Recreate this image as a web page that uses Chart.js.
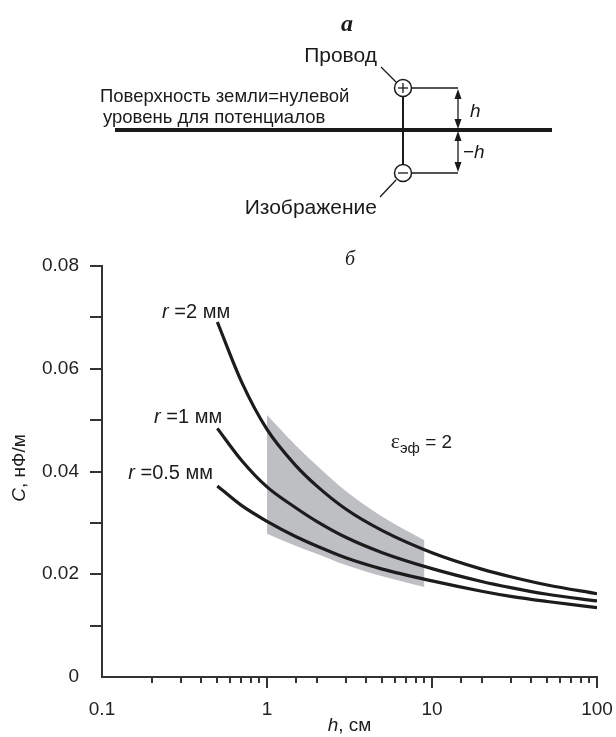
<!DOCTYPE html>
<html>
<head>
<meta charset="utf-8">
<script src="https://cdn.jsdelivr.net/npm/chart.js@4/dist/chart.umd.min.js"></script>
<style>
  body { margin: 0; background: #fff; }
  #wrap { position: relative; width: 616px; height: 737px; }
  #chart { position: absolute; left: 0; top: 240px; }
  #scheme { position: absolute; left: 0; top: 0; pointer-events: none; }
  svg text { font-family: "Liberation Sans", Arial, sans-serif; fill: #1a1a1a; }
</style>
</head>
<body>
<div id="wrap">
  <canvas id="chart" width="616" height="497"></canvas>
  <svg id="scheme" width="616" height="737">
    <text x="347" y="31" text-anchor="middle" style="font-family:'Liberation Serif',serif;font-style:italic;font-weight:bold;font-size:24px">а</text>
    <text x="377" y="62" text-anchor="end" font-size="21">Провод</text>
    <line x1="381" y1="67" x2="396" y2="82" stroke="#1a1a1a" stroke-width="1.3"/>
    <text x="100" y="102" font-size="18.5">Поверхность земли=нулевой</text>
    <text x="103" y="123" font-size="18.5">уровень для потенциалов</text>
    <line x1="115" y1="130" x2="552" y2="130" stroke="#1a1a1a" stroke-width="3.8"/>
    <line x1="403" y1="97" x2="403" y2="164" stroke="#1a1a1a" stroke-width="2"/>
    <line x1="412" y1="88" x2="458" y2="88" stroke="#1a1a1a" stroke-width="1.3"/>
    <line x1="412" y1="173" x2="458" y2="173" stroke="#1a1a1a" stroke-width="1.3"/>
    <circle cx="403" cy="88" r="8.5" fill="#fff" stroke="#1a1a1a" stroke-width="1.5"/>
    <line x1="398" y1="88" x2="408" y2="88" stroke="#1a1a1a" stroke-width="1.3"/>
    <line x1="403" y1="83" x2="403" y2="93" stroke="#1a1a1a" stroke-width="1.3"/>
    <circle cx="403" cy="173" r="8.5" fill="#fff" stroke="#1a1a1a" stroke-width="1.5"/>
    <line x1="398" y1="173" x2="408" y2="173" stroke="#1a1a1a" stroke-width="1.3"/>
    <line x1="458" y1="92" x2="458" y2="126" stroke="#1a1a1a" stroke-width="1.3"/>
    <line x1="458" y1="134" x2="458" y2="169" stroke="#1a1a1a" stroke-width="1.3"/>
    <polygon points="458,89 454.5,99 461.5,99" fill="#1a1a1a"/>
    <polygon points="458,129 454.5,119 461.5,119" fill="#1a1a1a"/>
    <polygon points="458,131 454.5,141 461.5,141" fill="#1a1a1a"/>
    <polygon points="458,172 454.5,162 461.5,162" fill="#1a1a1a"/>
    <text x="470" y="117" font-size="19" font-style="italic">h</text>
    <text x="463" y="158" font-size="19"><tspan>−</tspan><tspan font-style="italic">h</tspan></text>
    <line x1="396" y1="180" x2="380" y2="197" stroke="#1a1a1a" stroke-width="1.3"/>
    <text x="377" y="214" text-anchor="end" font-size="21">Изображение</text>
    <text x="350" y="265" text-anchor="middle" style="font-family:'Liberation Serif',serif;font-style:italic;font-size:20px">б</text>
  </svg>
</div>
<script>
// h, cm (x positions where the curves were read)
const hPoints = [0.5, 0.7, 1, 1.5, 2, 3, 5, 10, 20, 30, 50, 100];
// C, nF/m for each wire radius
const cR2 = [0.0691, 0.0575, 0.0482, 0.0411, 0.0372, 0.0327, 0.0285, 0.0242, 0.0210, 0.0195, 0.0179, 0.0162];
const cR1 = [0.0484, 0.0422, 0.0370, 0.0329, 0.0303, 0.0272, 0.0242, 0.0211, 0.0186, 0.0174, 0.0161, 0.0148];
const cR05 = [0.0372, 0.0334, 0.0303, 0.0273, 0.0255, 0.0232, 0.0210, 0.0187, 0.0167, 0.0157, 0.0147, 0.0135];

// grey band
const bandH = [1, 1.5, 2, 3, 5, 9];
const bandTop = [0.0510, 0.0450, 0.0412, 0.0362, 0.0312, 0.0266];
const bandBottom = [0.0279, 0.0255, 0.0240, 0.0218, 0.0196, 0.0175];

const yTickLabels = ['0', '0.02', '0.04', '0.06', '0.08'];
const curveLabels = [
  { r: 'r', rest: ' =2 мм', h: 0.598, c: 0.0710 },
  { r: 'r', rest: ' =1 мм', h: 0.535, c: 0.0506 },
  { r: 'r', rest: ' =0.5 мм', h: 0.471, c: 0.0397 }
];

const SANS = '"Liberation Sans", Arial, sans-serif';
const INK = '#1c1c1c';

function pts(xs, ys) {
  return xs.map((x, i) => ({ x: x, y: ys[i] }));
}

function curve(data) {
  return {
    data: data,
    borderColor: INK,
    borderWidth: 3.2,
    pointRadius: 0,
    fill: false,
    cubicInterpolationMode: 'monotone',
    order: 1
  };
}

// draws text made of several parts with different fonts
function drawParts(ctx, parts, x, y, align) {
  let total = 0;
  parts.forEach(p => { ctx.font = p.font; total += ctx.measureText(p.text).width; });
  let cx = align === 'right' ? x - total : align === 'center' ? x - total / 2 : x;
  parts.forEach(p => {
    ctx.font = p.font;
    ctx.fillText(p.text, cx, y + (p.dy || 0));
    cx += ctx.measureText(p.text).width;
  });
}

const extras = {
  id: 'extras',
  afterDraw(chart) {
    const ctx = chart.ctx;
    const xs = chart.scales.x, ys = chart.scales.y;
    const area = chart.chartArea;
    ctx.save();
    ctx.strokeStyle = '#333';
    ctx.lineWidth = 2;
    // x ticks, pointing down
    xs.ticks.forEach(t => {
      const px = Math.round(xs.getPixelForValue(t.value));
      const lg = Math.log10(t.value);
      const major = Math.abs(lg - Math.round(lg)) < 1e-6;
      if (px <= area.left + 1) return;
      ctx.beginPath();
      ctx.moveTo(px, area.bottom);
      ctx.lineTo(px, area.bottom + (major ? 11 : 6));
      ctx.stroke();
    });
    // y ticks, pointing left
    ys.ticks.forEach(t => {
      const py = Math.round(ys.getPixelForValue(t.value));
      if (py >= area.bottom - 1) return;
      ctx.beginPath();
      ctx.moveTo(area.left, py);
      ctx.lineTo(area.left - 12, py);
      ctx.stroke();
    });

    ctx.fillStyle = INK;
    ctx.textBaseline = 'alphabetic';
    // curve labels
    curveLabels.forEach(l => {
      drawParts(ctx, [
        { text: l.r, font: 'italic 20px ' + SANS },
        { text: l.rest, font: '20px ' + SANS }
      ], xs.getPixelForValue(l.h), ys.getPixelForValue(l.c) + 6, 'right');
    });
    // epsilon label
    drawParts(ctx, [
      { text: 'ε', font: '22px "Liberation Serif", serif' },
      { text: 'эф', font: '15px ' + SANS, dy: 5 },
      { text: ' = 2', font: '19px ' + SANS }
    ], xs.getPixelForValue(5.62), ys.getPixelForValue(0.0461) + 8, 'left');

    // axis titles
    drawParts(ctx, [
      { text: 'h', font: 'italic 19px ' + SANS },
      { text: ', см', font: '19px ' + SANS }
    ], (area.left + area.right) / 2, 491, 'center');

    ctx.translate(25, 228);
    ctx.rotate(-Math.PI / 2);
    drawParts(ctx, [
      { text: 'C', font: 'italic 19px ' + SANS },
      { text: ', нФ/м', font: '19px ' + SANS }
    ], 0, 0, 'center');
    ctx.restore();
  }
};

new Chart(document.getElementById('chart'), {
  type: 'line',
  data: {
    datasets: [
      curve(pts(hPoints, cR2)),
      curve(pts(hPoints, cR1)),
      curve(pts(hPoints, cR05)),
      {
        data: pts(bandH, bandTop),
        borderWidth: 0,
        pointRadius: 0,
        backgroundColor: '#bebfc2',
        fill: '+1',
        cubicInterpolationMode: 'monotone',
        order: 2
      },
      {
        data: pts(bandH, bandBottom),
        borderWidth: 0,
        pointRadius: 0,
        fill: false,
        cubicInterpolationMode: 'monotone',
        order: 2
      }
    ]
  },
  options: {
    responsive: false,
    devicePixelRatio: 1,
    animation: false,
    layout: { padding: { left: 0, right: 19, top: 26, bottom: 0 } },
    plugins: { legend: { display: false }, tooltip: { enabled: false } },
    scales: {
      x: {
        type: 'logarithmic',
        min: 0.1,
        max: 100,
        grid: { display: false },
        border: { display: true, color: '#333', width: 2 },
        ticks: {
          autoSkip: false,
          maxRotation: 0,
          padding: 13,
          color: '#222',
          font: { family: SANS, size: 19 },
          callback: v => {
            const lg = Math.log10(v);
            return Math.abs(lg - Math.round(lg)) < 1e-6 ? String(v) : '';
          }
        },
        afterFit: s => { s.height = 60; s.paddingLeft = 0; s.paddingRight = 0; }
      },
      y: {
        min: 0,
        max: 0.08,
        grid: { display: false },
        border: { display: true, color: '#333', width: 2 },
        ticks: {
          stepSize: 0.01,
          padding: 15,
          color: '#222',
          font: { family: SANS, size: 19 },
          callback: (v, i) => i % 2 === 0 ? yTickLabels[i / 2] : ''
        },
        afterFit: s => { s.width = 102; s.paddingTop = 0; s.paddingBottom = 0; }
      }
    }
  },
  plugins: [extras]
});
</script>
</body>
</html>
